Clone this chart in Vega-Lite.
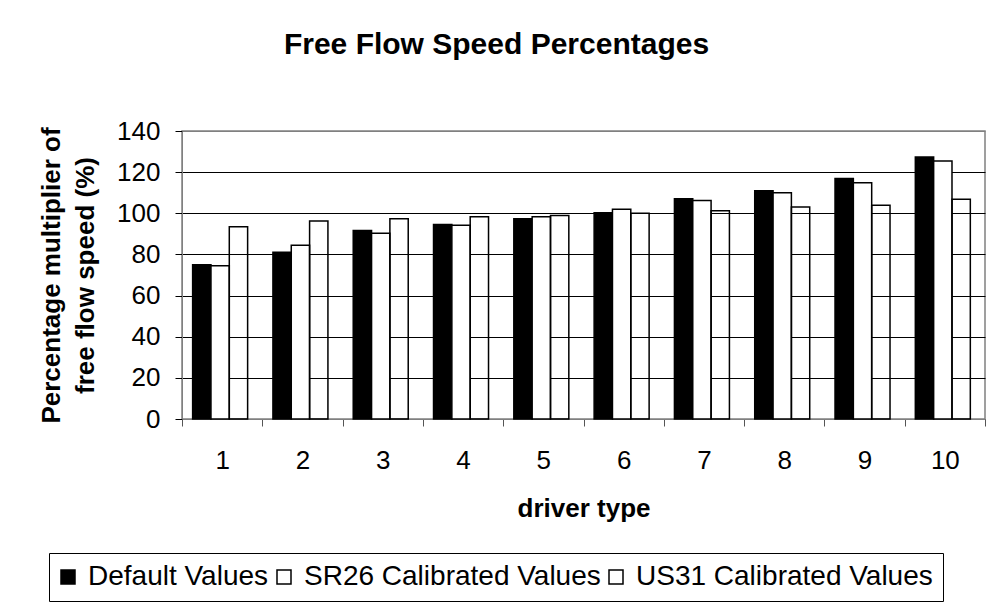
{
  "$schema": "https://vega.github.io/schema/vega-lite/v6.json",
  "autosize": "none",
  "width": 803,
  "height": 288,
  "padding": {"left": 182, "top": 131, "right": 7, "bottom": 190},
  "background": "white",
  "title": {
    "text": "Free Flow Speed Percentages",
    "fontSize": 30,
    "fontWeight": "bold",
    "font": "Liberation Sans",
    "color": "#000000",
    "anchor": "middle",
    "baseline": "alphabetic",
    "offset": 34,
    "dx": -87
  },
  "data": {
    "values": [
      {"driver": 1, "series": "Default Values", "pct": 75.0},
      {"driver": 1, "series": "SR26 Calibrated Values", "pct": 74.5},
      {"driver": 1, "series": "US31 Calibrated Values", "pct": 93.5},
      {"driver": 2, "series": "Default Values", "pct": 81.0},
      {"driver": 2, "series": "SR26 Calibrated Values", "pct": 84.5},
      {"driver": 2, "series": "US31 Calibrated Values", "pct": 96.3},
      {"driver": 3, "series": "Default Values", "pct": 91.6},
      {"driver": 3, "series": "SR26 Calibrated Values", "pct": 90.3},
      {"driver": 3, "series": "US31 Calibrated Values", "pct": 97.3},
      {"driver": 4, "series": "Default Values", "pct": 94.5},
      {"driver": 4, "series": "SR26 Calibrated Values", "pct": 94.2},
      {"driver": 4, "series": "US31 Calibrated Values", "pct": 98.3},
      {"driver": 5, "series": "Default Values", "pct": 97.4},
      {"driver": 5, "series": "SR26 Calibrated Values", "pct": 98.3},
      {"driver": 5, "series": "US31 Calibrated Values", "pct": 98.9},
      {"driver": 6, "series": "Default Values", "pct": 100.2},
      {"driver": 6, "series": "SR26 Calibrated Values", "pct": 102.0},
      {"driver": 6, "series": "US31 Calibrated Values", "pct": 100.0},
      {"driver": 7, "series": "Default Values", "pct": 107.1},
      {"driver": 7, "series": "SR26 Calibrated Values", "pct": 106.2},
      {"driver": 7, "series": "US31 Calibrated Values", "pct": 101.2},
      {"driver": 8, "series": "Default Values", "pct": 111.0},
      {"driver": 8, "series": "SR26 Calibrated Values", "pct": 110.0},
      {"driver": 8, "series": "US31 Calibrated Values", "pct": 103.0},
      {"driver": 9, "series": "Default Values", "pct": 116.9},
      {"driver": 9, "series": "SR26 Calibrated Values", "pct": 114.8},
      {"driver": 9, "series": "US31 Calibrated Values", "pct": 103.9},
      {"driver": 10, "series": "Default Values", "pct": 127.4},
      {"driver": 10, "series": "SR26 Calibrated Values", "pct": 125.4},
      {"driver": 10, "series": "US31 Calibrated Values", "pct": 106.8}
    ]
  },
  "mark": {"type": "bar", "stroke": "#000000", "strokeWidth": 1.5, "opacity": 1},
  "encoding": {
    "x": {
      "field": "driver",
      "type": "ordinal",
      "scale": {"paddingInner": 0, "paddingOuter": 0},
      "axis": {
        "title": "driver type",
        "labelAngle": 0,
        "tickBand": "extent",
        "tickSize": 7,
        "tickColor": "#555555",
        "domainColor": "#808080",
        "labelFontSize": 26,
        "labelPadding": 21,
        "titleFontSize": 26,
        "titleFontWeight": "bold",
        "titlePadding": 22
      }
    },
    "xOffset": {
      "field": "series",
      "type": "nominal",
      "scale": {
        "domain": ["Default Values", "SR26 Calibrated Values", "US31 Calibrated Values"],
        "paddingInner": 0,
        "paddingOuter": 0.69,
        "align": 0.42
      }
    },
    "y": {
      "field": "pct",
      "type": "quantitative",
      "scale": {"domain": [0, 140], "nice": false},
      "axis": {
        "title": ["Percentage multiplier of", "free flow speed (%)"],
        "values": [0, 20, 40, 60, 80, 100, 120, 140],
        "tickSize": 7,
        "tickColor": "#000000",
        "domainColor": "#808080",
        "gridColor": {"condition": {"test": "datum.value == 140", "value": "#808080"}, "value": "#000000"},
        "gridWidth": 1,
        "labelFontSize": 26,
        "labelPadding": 15,
        "titleFontSize": 26,
        "titleFontWeight": "bold",
        "titleLineHeight": 34,
        "titlePadding": 18
      }
    },
    "color": {
      "field": "series",
      "type": "nominal",
      "scale": {
        "domain": ["Default Values", "SR26 Calibrated Values", "US31 Calibrated Values"],
        "range": ["#000000", "#ffffff", "transparent"]
      },
      "legend": {
        "title": null,
        "orient": "none",
        "legendX": -133,
        "legendY": 422,
        "direction": "horizontal",
        "strokeColor": "#000000",
        "fillColor": "#ffffff",
        "padding": 10,
        "labelFontSize": 28,
        "labelColor": "#000000",
        "labelLimit": 400,
        "symbolType": "square",
        "symbolSize": 196,
        "symbolOpacity": 1,
        "symbolOffset": -5,
        "labelOffset": 6,
        "columnPadding": 5,
        "encode": {
          "symbols": {
            "stroke": {"value": "#000000"},
            "strokeWidth": {"value": {"expr": "datum.index === 2 ? 0.9 : 1.2"}},
            "shape": {"value": {"expr": "datum.index === 2 ? 'M-1,-1L1,-1L1,1L-1,1Z M0.5,-1L1,-0.5 M0,-1L1,0 M-0.5,-1L1,0.5 M-1,-1L1,1 M-1,-0.5L0.5,1 M-1,0L0,1 M-1,0.5L-0.5,1' : 'square'"}},
            "fill": {"value": {"expr": "datum.index === 0 ? '#000000' : '#ffffff'"}}
          }
        }
      }
    }
  },
  "config": {
    "font": "Liberation Sans",
    "view": {"stroke": "#808080", "strokeWidth": 1.5},
    "axis": {"labelColor": "#000000", "titleColor": "#000000", "labelFont": "Liberation Sans", "titleFont": "Liberation Sans"},
    "axisX": {"grid": false},
    "axisY": {"grid": true},
    "legend": {"labelFont": "Liberation Sans"}
  }
}
